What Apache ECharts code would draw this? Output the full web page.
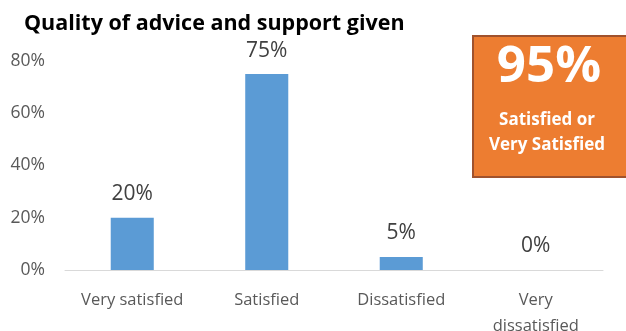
<!DOCTYPE html>
<html><head><meta charset="utf-8">
<script src="https://cdn.jsdelivr.net/npm/echarts@6/dist/echarts.min.js"></script>
<style>html,body{margin:0;padding:0;background:#fff}#c{width:626px;height:331px}</style>
</head><body><div id="c"></div>
<script>
const categories = ['Very satisfied', 'Satisfied', 'Dissatisfied', 'Very\ndissatisfied'];
const values = [20, 75, 5, 0];
const yTicks = [0, 20, 40, 60, 80];
const titleText = 'Quality of advice and support given';
const calloutValue = '95%';
const calloutText = 'Satisfied or\nVery Satisfied';
const FONT = '"Open Sans", sans-serif';

const chart = echarts.init(document.getElementById('c'));
chart.setOption({
  animation: false,
  title: { text: titleText, left: 19, top: 8,
    textStyle: { fontFamily: FONT, fontWeight: 'bold', fontSize: 21.5, color: '#000' } },
  grid: { left: 65, right: 23, top: 61, bottom: 61, containLabel: false, outerBoundsMode: 'none' },
  xAxis: { type: 'category', data: categories,
    axisLine: { lineStyle: { color: '#d9d9d9', width: 1 } },
    axisTick: { show: false },
    axisLabel: { fontFamily: FONT, fontSize: 16.5, color: '#595959', margin: 17, lineHeight: 26, interval: 0 } },
  yAxis: { type: 'value', min: yTicks[0], max: yTicks[yTicks.length - 1], interval: 20,
    splitLine: { show: false }, axisLine: { show: false }, axisTick: { show: false },
    axisLabel: { fontFamily: FONT, fontSize: 17.5, color: '#595959', margin: 20, formatter: v => v + '%' } },
  series: [{ type: 'bar', data: values, barWidth: '32%',
    itemStyle: { color: '#5b9bd5' },
    label: { show: true, position: 'top', distance: 13, formatter: p => p.value + '%',
      fontFamily: FONT, fontSize: 21, color: '#404040' } }],
  graphic: [
    { type: 'rect', shape: { x: 473, y: 36, width: 160, height: 141 },
      style: { fill: '#ed7d31', stroke: '#a0522d', lineWidth: 2 } },
    { type: 'text', style: { text: calloutValue, x: 549, y: 67,
      textAlign: 'center', textVerticalAlign: 'middle',
      font: 'bold 51px ' + FONT, fill: '#fff' } },
    { type: 'text', style: { text: calloutText, x: 547, y: 132.5, textAlign: 'center', textVerticalAlign: 'middle',
      font: 'bold 17px ' + FONT, fill: '#fff', lineHeight: 25 } }
  ]
});
</script></body></html>
